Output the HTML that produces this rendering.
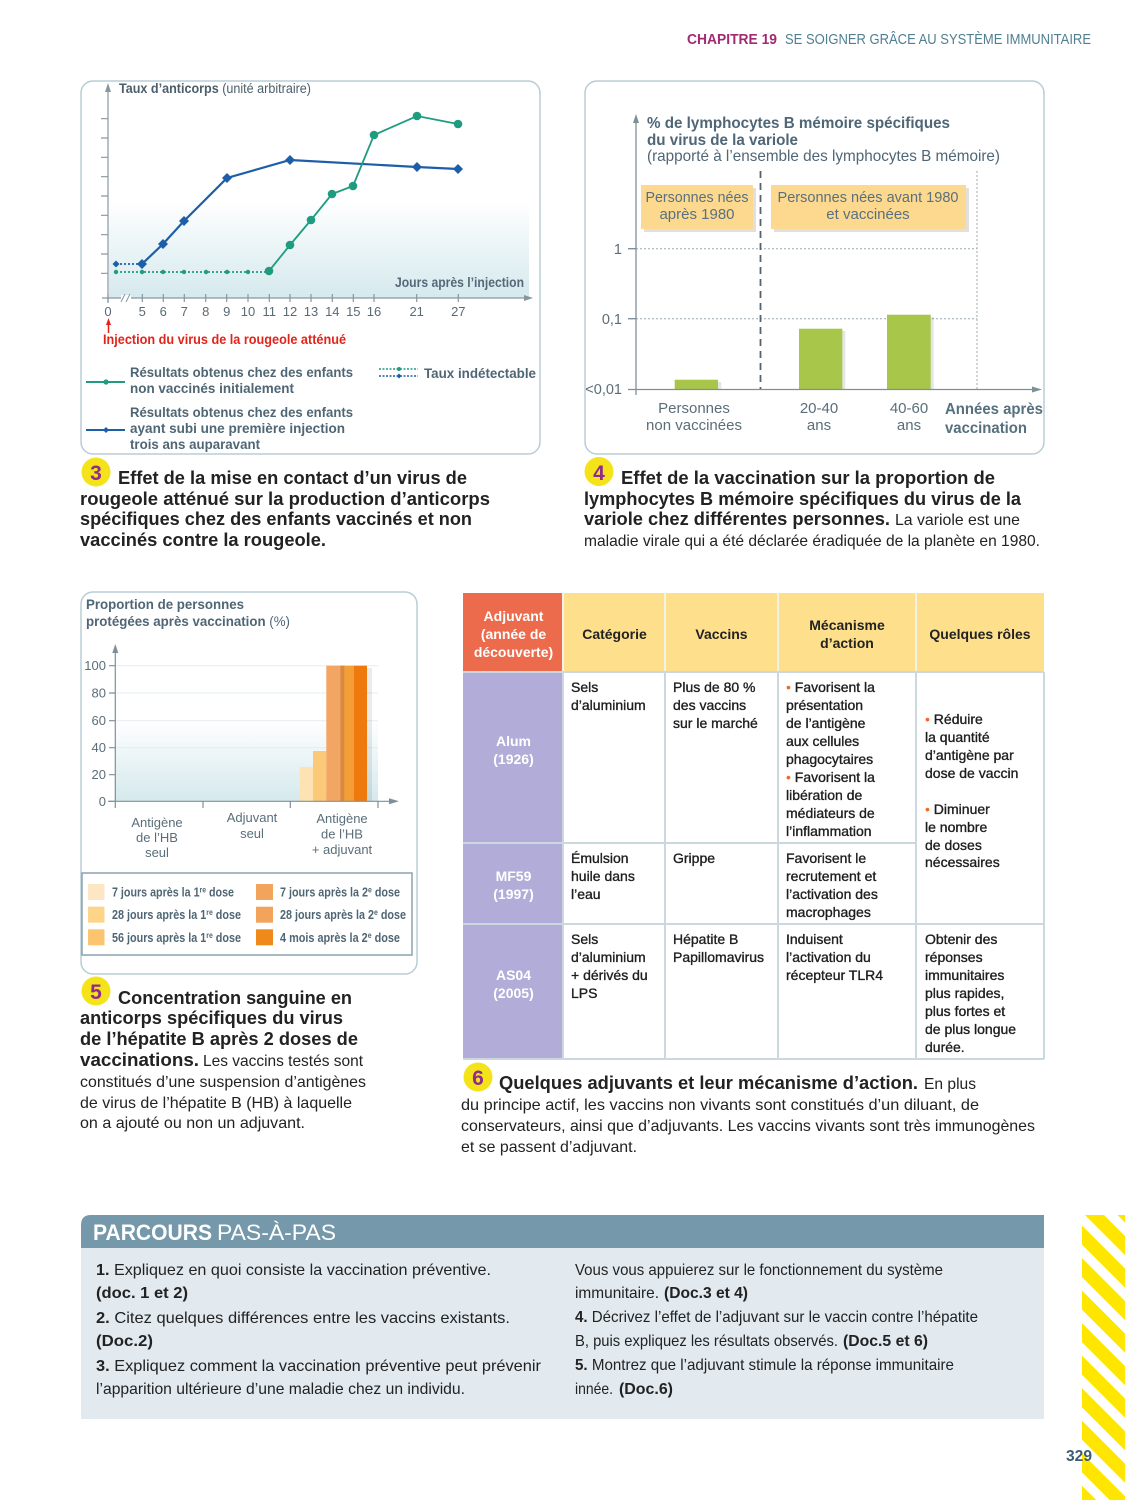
<!DOCTYPE html>
<html><head><meta charset="utf-8"><style>
html,body{margin:0;padding:0;background:#fff;}
svg{display:block;font-family:"Liberation Sans",sans-serif;}
</style></head><body>
<svg width="1125" height="1500" viewBox="0 0 1125 1500" xmlns="http://www.w3.org/2000/svg">
<defs>
<linearGradient id="g1" x1="0" y1="0" x2="0" y2="1"><stop offset="0" stop-color="#ffffff"/><stop offset="1" stop-color="#d5e9ed"/></linearGradient>
<pattern id="st" patternUnits="userSpaceOnUse" width="23" height="23" patternTransform="rotate(-45)"><rect x="0" y="0" width="13.5" height="23" fill="#ffe600"/></pattern>
<clipPath id="cs"><rect x="1082" y="1215" width="43" height="285"/></clipPath>
</defs>

<!-- Header -->
<text x="687" y="44" font-size="14.5" font-weight="bold" fill="#a12a72" textLength="90" lengthAdjust="spacingAndGlyphs">CHAPITRE 19</text>
<text x="785" y="44" font-size="14.5" fill="#4f7f90" textLength="306" lengthAdjust="spacingAndGlyphs">SE SOIGNER GRÂCE AU SYSTÈME IMMUNITAIRE</text>

<!-- ===== Chart 3 ===== -->
<rect x="81" y="81" width="459" height="373" rx="12" fill="#fff" stroke="#b9cdd6" stroke-width="1.5"/>
<rect x="109" y="200" width="420" height="98" fill="url(#g1)"/>
<g stroke="#8797a1" stroke-width="1.2" fill="none">
<line x1="108" y1="90" x2="108" y2="303"/>
<path d="M101 118.7H108M101 138H108M101 157.3H108M101 176.7H108M101 196H108M101 215.3H108M101 234.7H108M101 254H108M101 273.3H108"/>
<line x1="102" y1="298" x2="526" y2="298"/>
<path d="M108 294V302M142.3 294V302M163.3 294V302M184.3 294V302M205.7 294V302M226.7 294V302M248 294V302M269.3 294V302M290 294V302M311 294V302M332.3 294V302M353.3 294V302M374 294V302M416.7 294V302M458.3 294V302"/>
</g>
<path d="M108 83 L105 92 L111 92Z" fill="#8797a1"/>
<path d="M533 298 L524 295 L524 301Z" fill="#8797a1"/>
<rect x="121" y="295" width="10" height="6" fill="#fff"/>
<path d="M121 302L125 294M126 302L130 294" stroke="#8797a1" stroke-width="1"/>
<g font-size="13" fill="#5a6a74" text-anchor="middle">
<text x="108" y="316">0</text><text x="142.3" y="316">5</text><text x="163.3" y="316">6</text><text x="184.3" y="316">7</text><text x="205.7" y="316">8</text><text x="226.7" y="316">9</text><text x="248" y="316">10</text><text x="269.3" y="316">11</text><text x="290" y="316">12</text><text x="311" y="316">13</text><text x="332.3" y="316">14</text><text x="353.3" y="316">15</text><text x="374" y="316">16</text><text x="416.7" y="316">21</text><text x="458.3" y="316">27</text>
</g>
<text x="119" y="93" font-size="13.5" fill="#4c5e6a" textLength="192" lengthAdjust="spacingAndGlyphs"><tspan font-weight="bold">Taux d’anticorps</tspan> (unité arbitraire)</text>
<text x="395" y="287" font-size="13.5" font-weight="bold" fill="#56687a" textLength="129" lengthAdjust="spacingAndGlyphs">Jours après l’injection</text>

<!-- blue series -->
<line x1="116" y1="264" x2="142" y2="264" stroke="#1d5ea9" stroke-width="1.8" stroke-dasharray="2,2"/>
<polyline points="142,264 163,244 184,221 227,178 290,160 417,167 458,169" fill="none" stroke="#1d5ea9" stroke-width="2.2"/>
<g fill="#1d5ea9">
<path d="M116 260.5L119.5 264L116 267.5L112.5 264Z"/>
<path d="M142 259L147 264L142 269L137 264Z"/>
<path d="M163 239L168 244L163 249L158 244Z"/>
<path d="M184 216L189 221L184 226L179 221Z"/>
<path d="M227 173L232 178L227 183L222 178Z"/>
<path d="M290 155L295 160L290 165L285 160Z"/>
<path d="M417 162L422 167L417 172L412 167Z"/>
<path d="M458 164L463 169L458 174L453 169Z"/>
</g>
<!-- green series -->
<line x1="116" y1="272" x2="269" y2="272" stroke="#1f9c80" stroke-width="1.8" stroke-dasharray="2,2"/>
<polyline points="269,271 290,245 311,220 332,194 353,186 374,135 417,116 458,124" fill="none" stroke="#1f9c80" stroke-width="1.8"/>
<g fill="#1f9c80">
<circle cx="116" cy="272" r="2.2"/><circle cx="142" cy="272" r="2.2"/><circle cx="163" cy="272" r="2.2"/><circle cx="184" cy="272" r="2.2"/><circle cx="206" cy="272" r="2.2"/><circle cx="227" cy="272" r="2.2"/><circle cx="248" cy="272" r="2.2"/>
<circle cx="269" cy="271" r="4.3"/><circle cx="290" cy="245" r="4.3"/><circle cx="311" cy="220" r="4.3"/><circle cx="332" cy="194" r="4.3"/><circle cx="353" cy="186" r="4.3"/><circle cx="374" cy="135" r="4.3"/><circle cx="417" cy="116" r="4.3"/><circle cx="458" cy="124" r="4.3"/>
</g>
<!-- red arrow -->
<line x1="108.5" y1="333" x2="108.5" y2="323" stroke="#e2231a" stroke-width="1.5"/>
<path d="M108.5 318L106 325L111 325Z" fill="#e2231a"/>
<text x="103" y="344" font-size="13.5" font-weight="bold" fill="#e2231a" textLength="243" lengthAdjust="spacingAndGlyphs">Injection du virus de la rougeole atténué</text>
<!-- legend -->
<line x1="86" y1="382" x2="125" y2="382" stroke="#1f9c80" stroke-width="2"/>
<circle cx="106" cy="382" r="2.6" fill="#1f9c80"/>
<line x1="86" y1="430" x2="125" y2="430" stroke="#1d5ea9" stroke-width="2"/>
<path d="M106 427L109 430L106 433L103 430Z" fill="#1d5ea9"/>
<g font-size="14" font-weight="bold" fill="#4f6674">
<text x="130" y="377" textLength="223" lengthAdjust="spacingAndGlyphs">Résultats obtenus chez des enfants</text>
<text x="130" y="393" textLength="164" lengthAdjust="spacingAndGlyphs">non vaccinés initialement</text>
<text x="130" y="417" textLength="223" lengthAdjust="spacingAndGlyphs">Résultats obtenus chez des enfants</text>
<text x="130" y="433" textLength="215" lengthAdjust="spacingAndGlyphs">ayant subi une première injection</text>
<text x="130" y="449" textLength="130" lengthAdjust="spacingAndGlyphs">trois ans auparavant</text>
<text x="424" y="378" textLength="112" lengthAdjust="spacingAndGlyphs">Taux indétectable</text>
</g>
<line x1="379" y1="369" x2="418" y2="369" stroke="#1f9c80" stroke-width="1.5" stroke-dasharray="2,1.5"/>
<line x1="379" y1="376" x2="418" y2="376" stroke="#1d5ea9" stroke-width="1.5" stroke-dasharray="2,1.5"/>
<circle cx="399" cy="369" r="2" fill="#1f9c80"/>
<path d="M399 373.5L401.5 376L399 378.5L396.5 376Z" fill="#1d5ea9"/>

<!-- Caption 3 -->
<circle cx="96" cy="472" r="14.5" fill="#f5e31a"/>
<text x="96" y="480" font-size="21" font-weight="bold" fill="#8f2b8c" text-anchor="middle">3</text>
<g font-size="18.5" font-weight="bold" fill="#222">
<text x="118" y="484" textLength="349" lengthAdjust="spacingAndGlyphs">Effet de la mise en contact d’un virus de</text>
<text x="80" y="505" textLength="410" lengthAdjust="spacingAndGlyphs">rougeole atténué sur la production d’anticorps</text>
<text x="80" y="525" textLength="392" lengthAdjust="spacingAndGlyphs">spécifiques chez des enfants vaccinés et non</text>
<text x="80" y="546" textLength="246" lengthAdjust="spacingAndGlyphs">vaccinés contre la rougeole.</text>
</g>

<!-- ===== Chart 4 ===== -->
<rect x="585" y="81" width="459" height="373" rx="12" fill="#fff" stroke="#b9cdd6" stroke-width="1.5"/>
<g font-size="16" fill="#4e6676">
<text x="647" y="128" font-weight="bold" textLength="303" lengthAdjust="spacingAndGlyphs">% de lymphocytes B mémoire spécifiques</text>
<text x="647" y="145" font-weight="bold" textLength="151" lengthAdjust="spacingAndGlyphs">du virus de la variole</text>
<text x="647" y="161" textLength="353" lengthAdjust="spacingAndGlyphs">(rapporté à l’ensemble des lymphocytes B mémoire)</text>
</g>
<g stroke="#9aa9b2" stroke-width="1" stroke-dasharray="2,2" fill="none">
<line x1="636" y1="248.7" x2="977" y2="248.7"/>
<line x1="636" y1="318.7" x2="977" y2="318.7"/>
<line x1="977" y1="171" x2="977" y2="389"/>
</g>
<line x1="760.5" y1="171" x2="760.5" y2="389" stroke="#56626c" stroke-width="1.8" stroke-dasharray="7,5"/>
<!-- boxes -->
<rect x="644" y="188" width="112" height="44" fill="#000" opacity="0.12"/>
<rect x="641" y="185" width="112" height="44" fill="#fcd98e"/>
<rect x="774" y="188" width="195" height="44" fill="#000" opacity="0.12"/>
<rect x="771" y="185" width="195" height="44" fill="#fcd98e"/>
<g font-size="15" fill="#5a7080" text-anchor="middle">
<text x="697" y="202" textLength="103" lengthAdjust="spacingAndGlyphs">Personnes nées</text>
<text x="697" y="219">après 1980</text>
<text x="868" y="202" textLength="181" lengthAdjust="spacingAndGlyphs">Personnes nées avant 1980</text>
<text x="868" y="219">et vaccinées</text>
</g>
<!-- bars -->
<rect x="678" y="382" width="43.3" height="8" fill="#000" opacity="0.1"/>
<rect x="674.7" y="379.7" width="43.3" height="10" fill="#a8c64a"/>
<rect x="802" y="331" width="43.3" height="59" fill="#000" opacity="0.1"/>
<rect x="799" y="328.7" width="43.3" height="61" fill="#a8c64a"/>
<rect x="890" y="317" width="43.7" height="73" fill="#000" opacity="0.1"/>
<rect x="887" y="314.7" width="43.7" height="75" fill="#a8c64a"/>
<!-- axes -->
<g stroke="#7f8f99" stroke-width="1.3" fill="none">
<line x1="636" y1="122" x2="636" y2="395"/>
<line x1="628" y1="389.5" x2="1034" y2="389.5"/>
<path d="M628 248.7H636M628 318.7H636"/>
</g>
<path d="M636 114L633 123L639 123Z" fill="#7f8f99"/>
<path d="M1042 389.5L1032 386.5L1032 392.5Z" fill="#7f8f99"/>
<g font-size="14.5" fill="#5a6e7a" text-anchor="end">
<text x="622" y="254">1</text>
<text x="622" y="324">0,1</text>
<text x="622" y="394">&lt;0,01</text>
</g>
<g font-size="15" fill="#5a6e7a" text-anchor="middle">
<text x="694" y="413">Personnes</text>
<text x="694" y="430">non vaccinées</text>
<text x="819" y="413">20-40</text>
<text x="819" y="430">ans</text>
<text x="909" y="413">40-60</text>
<text x="909" y="430">ans</text>
</g>
<text x="945" y="414" font-size="15.5" font-weight="bold" fill="#56707e" textLength="98" lengthAdjust="spacingAndGlyphs">Années après</text>
<text x="945" y="433" font-size="15.5" font-weight="bold" fill="#56707e" textLength="82" lengthAdjust="spacingAndGlyphs">vaccination</text>

<!-- Caption 4 -->
<circle cx="599" cy="471.5" r="14.5" fill="#f5e31a"/>
<text x="599" y="480" font-size="21" font-weight="bold" fill="#8f2b8c" text-anchor="middle">4</text>
<g font-size="18.5" font-weight="bold" fill="#222">
<text x="621" y="484" textLength="374" lengthAdjust="spacingAndGlyphs">Effet de la vaccination sur la proportion de</text>
<text x="584" y="505" textLength="437" lengthAdjust="spacingAndGlyphs">lymphocytes B mémoire spécifiques du virus de la</text>
<text x="584" y="525" textLength="306" lengthAdjust="spacingAndGlyphs">variole chez différentes personnes.</text>
</g>
<g font-size="16" fill="#222">
<text x="895" y="525" textLength="125" lengthAdjust="spacingAndGlyphs">La variole est une</text>
<text x="584" y="546" textLength="456" lengthAdjust="spacingAndGlyphs">maladie virale qui a été déclarée éradiquée de la planète en 1980.</text>
</g>

<!-- ===== Chart 5 ===== -->
<rect x="81" y="592" width="336" height="382" rx="12" fill="#fff" stroke="#b9cdd6" stroke-width="1.5"/>
<text x="86" y="609" font-size="14" font-weight="bold" fill="#4e6676" textLength="158" lengthAdjust="spacingAndGlyphs">Proportion de personnes</text>
<text x="86" y="626" font-size="14" fill="#4e6676" textLength="204" lengthAdjust="spacingAndGlyphs"><tspan font-weight="bold">protégées après vaccination</tspan> (%)</text>
<rect x="115" y="720" width="263" height="81" fill="url(#g1)"/>
<g stroke="#e3ecef" stroke-width="1">
<path d="M115 665.7H378M115 693H378M115 720.7H378M115 747.7H378M115 774.7H378"/>
</g>
<!-- bars -->
<rect x="367" y="668" width="5" height="133" fill="#000" opacity="0.08"/>
<rect x="299.7" y="767" width="13.3" height="34.3" fill="#fde3b4"/>
<rect x="313" y="751" width="13.3" height="50.3" fill="#fcc978"/>
<rect x="326.3" y="665.7" width="14" height="135.6" fill="#f3a563"/>
<rect x="340.3" y="665.7" width="13.4" height="135.6" fill="#f49e38"/>
<rect x="340.3" y="665.7" width="4" height="135.6" fill="#d98a3e"/>
<rect x="353.7" y="665.7" width="13.3" height="135.6" fill="#ee7a0e"/>
<g stroke="#7f8f99" stroke-width="1.2" fill="none">
<line x1="115.3" y1="652" x2="115.3" y2="808"/>
<line x1="108" y1="801.3" x2="391" y2="801.3"/>
<path d="M109 665.7H115M109 693H115M109 720.7H115M109 747.7H115M109 774.7H115M109 801.3H115"/>
<path d="M203 801V808M290.3 801V808M378 801V808"/>
</g>
<path d="M115.3 644L112.3 653L118.3 653Z" fill="#7f8f99"/>
<path d="M399 801.3L389 798.3L389 804.3Z" fill="#7f8f99"/>
<g font-size="13" fill="#5a6e7a" text-anchor="end">
<text x="106" y="670">100</text>
<text x="106" y="697.5">80</text>
<text x="106" y="725">60</text>
<text x="106" y="752">40</text>
<text x="106" y="779">20</text>
<text x="106" y="806">0</text>
</g>
<g font-size="13" fill="#5a6e7a" text-anchor="middle">
<text x="157" y="827">Antigène</text>
<text x="157" y="842">de l’HB</text>
<text x="157" y="857">seul</text>
<text x="252" y="822">Adjuvant</text>
<text x="252" y="838">seul</text>
<text x="342" y="823">Antigène</text>
<text x="342" y="838.5">de l’HB</text>
<text x="342" y="854">+ adjuvant</text>
</g>
<rect x="82" y="873" width="330" height="82" fill="#fff" stroke="#8aa2ae" stroke-width="1.5"/>
<rect x="88" y="884" width="16.5" height="16" fill="#fde6c4"/>
<rect x="88" y="906.7" width="16.5" height="16" fill="#fdd48a"/>
<rect x="88" y="929.3" width="16.5" height="16" fill="#fcc46e"/>
<rect x="256" y="884" width="17" height="16" fill="#f2a35c"/>
<rect x="256" y="906.7" width="17" height="16" fill="#f2a35c"/>
<rect x="256" y="929.3" width="17" height="16" fill="#ef8a1a"/>
<g font-size="12.5" font-weight="bold" fill="#4f6674">
<text x="112" y="896.5" textLength="122" lengthAdjust="spacingAndGlyphs">7 jours après la 1<tspan font-size="8" dy="-4">re</tspan><tspan dy="4"> dose</tspan></text>
<text x="112" y="919" textLength="129" lengthAdjust="spacingAndGlyphs">28 jours après la 1<tspan font-size="8" dy="-4">re</tspan><tspan dy="4"> dose</tspan></text>
<text x="112" y="941.8" textLength="129" lengthAdjust="spacingAndGlyphs">56 jours après la 1<tspan font-size="8" dy="-4">re</tspan><tspan dy="4"> dose</tspan></text>
<text x="280" y="896.5" textLength="120" lengthAdjust="spacingAndGlyphs">7 jours après la 2<tspan font-size="8" dy="-4">e</tspan><tspan dy="4"> dose</tspan></text>
<text x="280" y="919" textLength="126" lengthAdjust="spacingAndGlyphs">28 jours après la 2<tspan font-size="8" dy="-4">e</tspan><tspan dy="4"> dose</tspan></text>
<text x="280" y="941.8" textLength="120" lengthAdjust="spacingAndGlyphs">4 mois après la 2<tspan font-size="8" dy="-4">e</tspan><tspan dy="4"> dose</tspan></text>
</g>

<!-- Caption 5 -->
<circle cx="96" cy="991" r="14.5" fill="#f5e31a"/>
<text x="96" y="999" font-size="21" font-weight="bold" fill="#8f2b8c" text-anchor="middle">5</text>
<g font-size="18.5" font-weight="bold" fill="#222">
<text x="118" y="1004" textLength="234" lengthAdjust="spacingAndGlyphs">Concentration sanguine en</text>
<text x="80" y="1024" textLength="263" lengthAdjust="spacingAndGlyphs">anticorps spécifiques du virus</text>
<text x="80" y="1045" textLength="278" lengthAdjust="spacingAndGlyphs">de l’hépatite B après 2 doses de</text>
<text x="80" y="1066" textLength="119" lengthAdjust="spacingAndGlyphs">vaccinations.</text>
</g>
<g font-size="16" fill="#222">
<text x="203" y="1066" textLength="160" lengthAdjust="spacingAndGlyphs">Les vaccins testés sont</text>
<text x="80" y="1087" textLength="286" lengthAdjust="spacingAndGlyphs">constitués d’une suspension d’antigènes</text>
<text x="80" y="1108" textLength="272" lengthAdjust="spacingAndGlyphs">de virus de l’hépatite B (HB) à laquelle</text>
<text x="80" y="1128" textLength="225" lengthAdjust="spacingAndGlyphs">on a ajouté ou non un adjuvant.</text>
</g>

<!-- ===== Table ===== -->
<rect x="463" y="593" width="100" height="79" fill="#ec6b4d"/>
<rect x="563" y="593" width="481" height="79" fill="#fddf8c"/>
<rect x="463" y="672" width="100" height="387" fill="#b2acd9"/>
<g stroke="#f4f1ea" stroke-width="2">
<path d="M563 593V672M665 593V672M778 593V672M916 593V672"/>
</g>
<g stroke="#cbd8e0" stroke-width="2" fill="none">
<path d="M463 672H1044M463 843H916M463 924H1044M463 1059H1044M1044 672V1059M563 672V1059M665 672V1059M778 672V1059M916 672V1059"/>
</g>
<g font-size="14" font-weight="bold" fill="#fff" text-anchor="middle">
<text x="513.5" y="621">Adjuvant</text>
<text x="513.5" y="639">(année de</text>
<text x="513.5" y="657">découverte)</text>
<text x="513.5" y="746">Alum</text>
<text x="513.5" y="764">(1926)</text>
<text x="513.5" y="881">MF59</text>
<text x="513.5" y="899">(1997)</text>
<text x="513.5" y="980">AS04</text>
<text x="513.5" y="998">(2005)</text>
</g>
<g font-size="14" font-weight="bold" fill="#222" text-anchor="middle">
<text x="614.5" y="639">Catégorie</text>
<text x="721.5" y="639">Vaccins</text>
<text x="847" y="630">Mécanisme</text>
<text x="847" y="648">d’action</text>
<text x="980" y="639">Quelques rôles</text>
</g>
<g font-size="14" fill="#1e1e1e" stroke="#1e1e1e" stroke-width="0.35">
<text x="571" y="692">Sels</text>
<text x="571" y="710">d’aluminium</text>
<text x="673" y="692">Plus de 80 %</text>
<text x="673" y="710">des vaccins</text>
<text x="673" y="728">sur le marché</text>
<text x="786" y="692"><tspan fill="#f06a1e" stroke="none">•</tspan> Favorisent la</text>
<text x="786" y="710">présentation</text>
<text x="786" y="728">de l’antigène</text>
<text x="786" y="746">aux cellules</text>
<text x="786" y="764">phagocytaires</text>
<text x="786" y="782"><tspan fill="#f06a1e" stroke="none">•</tspan> Favorisent la</text>
<text x="786" y="800">libération de</text>
<text x="786" y="818">médiateurs de</text>
<text x="786" y="836">l’inflammation</text>
<text x="925" y="724"><tspan fill="#f06a1e" stroke="none">•</tspan> Réduire</text>
<text x="925" y="742">la quantité</text>
<text x="925" y="760">d’antigène par</text>
<text x="925" y="778">dose de vaccin</text>
<text x="925" y="814"><tspan fill="#f06a1e" stroke="none">•</tspan> Diminuer</text>
<text x="925" y="832">le nombre</text>
<text x="925" y="850">de doses</text>
<text x="925" y="867">nécessaires</text>
<text x="571" y="863">Émulsion</text>
<text x="571" y="881">huile dans</text>
<text x="571" y="899">l’eau</text>
<text x="673" y="863">Grippe</text>
<text x="786" y="863">Favorisent le</text>
<text x="786" y="881">recrutement et</text>
<text x="786" y="899">l’activation des</text>
<text x="786" y="917">macrophages</text>
<text x="571" y="944">Sels</text>
<text x="571" y="962">d’aluminium</text>
<text x="571" y="980">+ dérivés du</text>
<text x="571" y="998">LPS</text>
<text x="673" y="944">Hépatite B</text>
<text x="673" y="962">Papillomavirus</text>
<text x="786" y="944">Induisent</text>
<text x="786" y="962">l’activation du</text>
<text x="786" y="980">récepteur TLR4</text>
<text x="925" y="944">Obtenir des</text>
<text x="925" y="962">réponses</text>
<text x="925" y="980">immunitaires</text>
<text x="925" y="998">plus rapides,</text>
<text x="925" y="1016">plus fortes et</text>
<text x="925" y="1034">de plus longue</text>
<text x="925" y="1052">durée.</text>
</g>

<!-- Caption 6 -->
<circle cx="478" cy="1077" r="14.5" fill="#f5e31a"/>
<text x="478" y="1085" font-size="21" font-weight="bold" fill="#8f2b8c" text-anchor="middle">6</text>
<text x="499" y="1089" font-size="18.5" font-weight="bold" fill="#222" textLength="419" lengthAdjust="spacingAndGlyphs">Quelques adjuvants et leur mécanisme d’action.</text>
<g font-size="16" fill="#222">
<text x="924" y="1089" textLength="52" lengthAdjust="spacingAndGlyphs">En plus</text>
<text x="461" y="1110" textLength="518" lengthAdjust="spacingAndGlyphs">du principe actif, les vaccins non vivants sont constitués d’un diluant, de</text>
<text x="461" y="1131" textLength="574" lengthAdjust="spacingAndGlyphs">conservateurs, ainsi que d’adjuvants. Les vaccins vivants sont très immunogènes</text>
<text x="461" y="1152" textLength="176" lengthAdjust="spacingAndGlyphs">et se passent d’adjuvant.</text>
</g>

<!-- ===== Parcours ===== -->
<path d="M81 1248V1225Q81 1215 91 1215H1044V1248Z" fill="#7598aa"/>
<rect x="81" y="1248" width="963" height="171" fill="#e2eaf0"/>
<text x="93" y="1240" font-size="22" font-weight="bold" fill="#fff" textLength="119" lengthAdjust="spacingAndGlyphs">PARCOURS</text>
<text x="217" y="1240" font-size="22" fill="#fff" textLength="119" lengthAdjust="spacingAndGlyphs">PAS-À-PAS</text>
<g font-size="16" fill="#222">
<text x="96" y="1275" textLength="395" lengthAdjust="spacingAndGlyphs"><tspan font-weight="bold">1.</tspan> Expliquez en quoi consiste la vaccination préventive.</text>
<text x="96" y="1298" font-weight="bold" textLength="92" lengthAdjust="spacingAndGlyphs">(doc. 1 et 2)</text>
<text x="96" y="1323" textLength="414" lengthAdjust="spacingAndGlyphs"><tspan font-weight="bold">2.</tspan> Citez quelques différences entre les vaccins existants.</text>
<text x="96" y="1346" font-weight="bold" textLength="57" lengthAdjust="spacingAndGlyphs">(Doc.2)</text>
<text x="96" y="1371" textLength="445" lengthAdjust="spacingAndGlyphs"><tspan font-weight="bold">3.</tspan> Expliquez comment la vaccination préventive peut prévenir</text>
<text x="96" y="1394" textLength="369" lengthAdjust="spacingAndGlyphs">l’apparition ultérieure d’une maladie chez un individu.</text>
<text x="575" y="1275" textLength="368" lengthAdjust="spacingAndGlyphs">Vous vous appuierez sur le fonctionnement du système</text>
<text x="575" y="1298" textLength="84" lengthAdjust="spacingAndGlyphs">immunitaire.</text>
<text x="664" y="1298" font-weight="bold" textLength="84" lengthAdjust="spacingAndGlyphs">(Doc.3 et 4)</text>
<text x="575" y="1322" textLength="403" lengthAdjust="spacingAndGlyphs"><tspan font-weight="bold">4.</tspan> Décrivez l’effet de l’adjuvant sur le vaccin contre l’hépatite</text>
<text x="575" y="1346" textLength="263" lengthAdjust="spacingAndGlyphs">B, puis expliquez les résultats observés.</text>
<text x="843" y="1346" font-weight="bold" textLength="85" lengthAdjust="spacingAndGlyphs">(Doc.5 et 6)</text>
<text x="575" y="1370" textLength="379" lengthAdjust="spacingAndGlyphs"><tspan font-weight="bold">5.</tspan> Montrez que l’adjuvant stimule la réponse immunitaire</text>
<text x="575" y="1394" textLength="38" lengthAdjust="spacingAndGlyphs">innée.</text>
<text x="619" y="1394" font-weight="bold" textLength="54" lengthAdjust="spacingAndGlyphs">(Doc.6)</text>
</g>

<!-- Stripes -->
<g clip-path="url(#cs)"><rect x="1082" y="1215" width="43" height="285" fill="url(#st)"/></g>
<text x="1066" y="1461" font-size="16" font-weight="bold" fill="#3b5f70" textLength="26" lengthAdjust="spacingAndGlyphs">329</text>
</svg>
</body></html>
